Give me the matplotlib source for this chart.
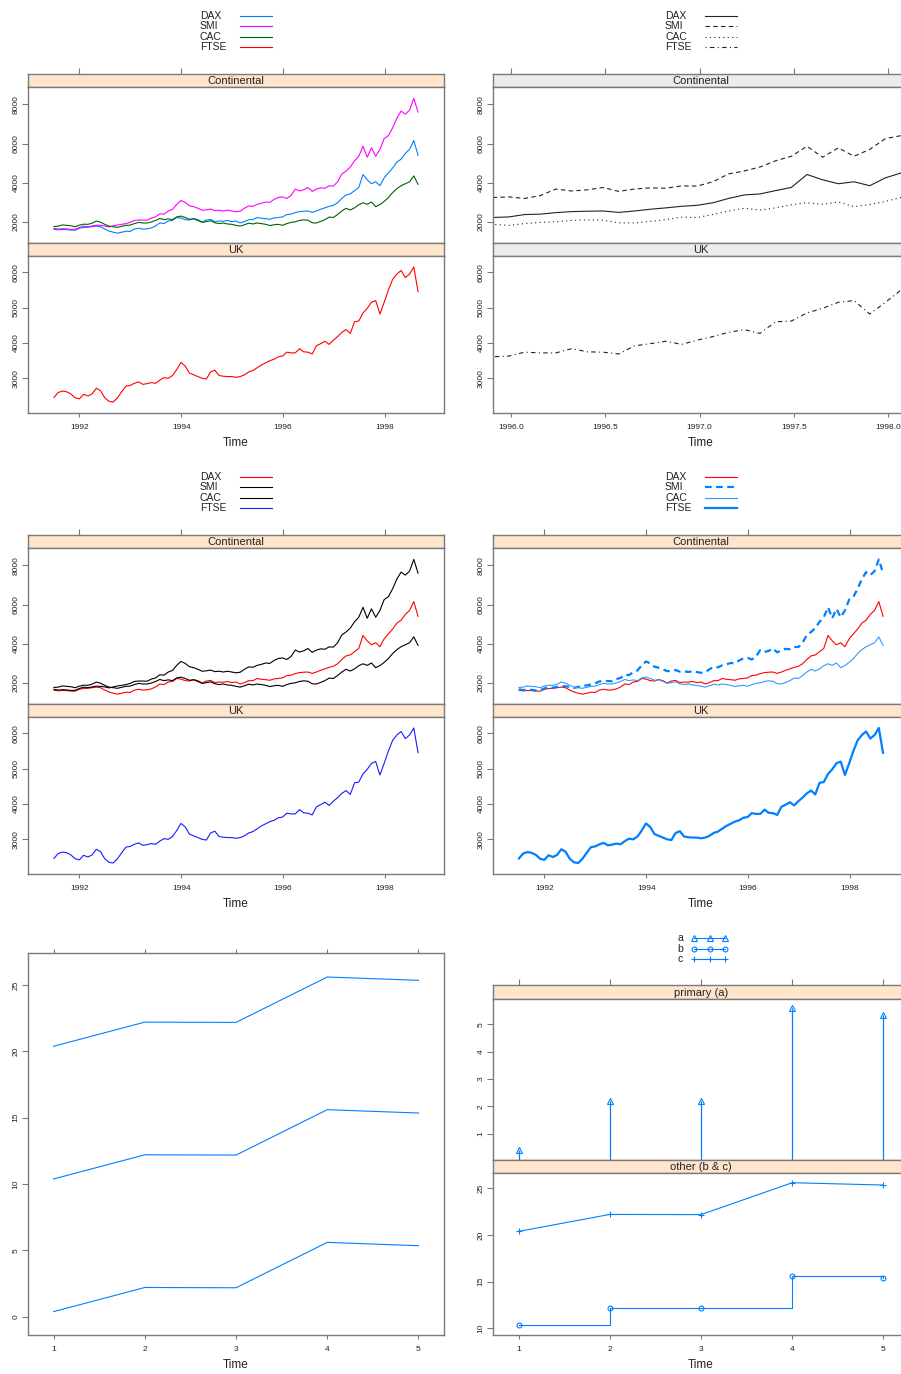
import numpy as np
import matplotlib.pyplot as plt
from matplotlib.lines import Line2D

plt.rcParams['font.family'] = ['Liberation Sans', 'DejaVu Sans']

W, H = 901, 1374
BOX = '#7a7a7a'
TXT = '#222222'
PEACH = '#ffe5cc'
GREY_STRIP = '#ececec'

years = np.linspace(1991.5, 1998.65, 87)
dax = [1630, 1600, 1620, 1610, 1590, 1580, 1680, 1720, 1730, 1760,
       1790, 1760, 1640, 1540, 1480, 1430, 1480, 1530, 1520, 1640,
       1680, 1640, 1650, 1700, 1800, 1950, 1920, 2050, 2080, 2230,
       2200, 2120, 2100, 2180, 2120, 2000, 2100, 2130, 2020, 2050,
       2040, 2080, 2020, 2050, 1950, 2020, 2120, 2120, 2230, 2190,
       2170, 2140, 2210, 2230, 2260, 2380, 2400, 2480, 2530, 2550,
       2560, 2490, 2560, 2650, 2720, 2800, 2850, 2980, 3200, 3380,
       3430, 3600, 3760, 4420, 4150, 3950, 4050, 3850, 4250, 4500,
       4750, 5050, 5200, 5500, 5700, 6150, 5400]
smi = [1680, 1640, 1660, 1650, 1620, 1630, 1720, 1790, 1760, 1800,
       1840, 1830, 1800, 1750, 1800, 1850, 1880, 1920, 1980, 2080,
       2100, 2100, 2090, 2200, 2260, 2420, 2400, 2560, 2640, 2900,
       3100, 3000, 2830, 2780, 2700, 2600, 2620, 2660, 2580, 2600,
       2560, 2600, 2560, 2520, 2550, 2700, 2820, 2800, 2900, 2950,
       3020, 3000, 3150, 3250, 3280, 3200, 3350, 3680, 3580, 3640,
       3760, 3560, 3680, 3740, 3720, 3840, 3830, 4050, 4450, 4600,
       4800, 5120, 5350, 5860, 5300, 5780, 5350, 5700, 6250, 6400,
       6800, 7300, 7650, 7500, 7700, 8300, 7600]
cac = [1772, 1790, 1850, 1830, 1810, 1760, 1840, 1890, 1880, 1940,
       2050, 1990, 1880, 1790, 1760, 1730, 1780, 1830, 1840, 1920,
       1980, 1950, 1950, 2000, 2080, 2180, 2120, 2160, 2120, 2260,
       2300, 2230, 2140, 2160, 2080, 1980, 2020, 2060, 1960, 1920,
       1950, 1900, 1880, 1830, 1790, 1860, 1940, 1900, 1950, 1920,
       1880, 1820, 1860, 1880, 1830, 1920, 1980, 2010, 2080, 2110,
       2090, 1960, 1950, 2030, 2120, 2250, 2230, 2380, 2560, 2700,
       2610, 2720, 2880, 2980, 2900, 3020, 2780, 2890, 3050, 3250,
       3500, 3700, 3850, 3950, 4050, 4350, 3920]
ftse = [2460, 2600, 2640, 2620, 2560, 2450, 2420, 2550, 2500, 2560,
        2720, 2650, 2450, 2350, 2330, 2450, 2620, 2780, 2800, 2860,
        2900, 2830, 2850, 2880, 2860, 2950, 3020, 3000, 3080, 3250,
        3450, 3350, 3150, 3100, 3050, 3000, 2980, 3180, 3230, 3080,
        3060, 3050, 3050, 3030, 3050, 3100, 3180, 3220, 3300, 3380,
        3440, 3500, 3540, 3610, 3630, 3740, 3720, 3720, 3840, 3750,
        3740, 3690, 3920, 3980, 4050, 3960, 4080, 4180, 4300, 4380,
        4270, 4600, 4620, 4850, 4980, 5150, 5200, 4820, 5150, 5500,
        5800, 5950, 6050, 5850, 5950, 6150, 5450]
names = ['DAX', 'SMI', 'CAC', 'FTSE']

# маленький пример a, b, c
idx = [1, 2, 3, 4, 5]
a_vals = [0.38, 2.20, 2.18, 5.60, 5.35]
b_vals = [10.38, 12.20, 12.18, 15.60, 15.35]
c_vals = [20.38, 22.20, 22.18, 25.60, 25.35]

fig = plt.figure(figsize=(W / 100, H / 100), dpi=100)


def rect(x0, y0, x1, y1):
    return [x0 / W, 1 - y1 / H, (x1 - x0) / W, (y1 - y0) / H]


def boxify(ax):
    for sp in ax.spines.values():
        sp.set_color(BOX)
        sp.set_linewidth(1.0)
    ax.tick_params(color=BOX, width=0.8, labelcolor=TXT)


def strip(x0, y0, x1, y1, label, fc, xlim, top_ticks=None):
    s = fig.add_axes(rect(x0, y0, x1, y1))
    s.set_facecolor(fc)
    s.set_xlim(xlim)
    s.set_ylim(0, 1)
    s.set_yticks([])
    boxify(s)
    if top_ticks is None:
        s.set_xticks([])
    else:
        s.set_xticks(top_ticks)
        s.tick_params(axis='x', bottom=False, labelbottom=False, top=True,
                      labeltop=False, length=4)
    s.text(0.5, 0.45, label, transform=s.transAxes, ha='center', va='center',
           fontsize=8, color=TXT)
    return s


def panel(x0, y0, x1, y1, xlim, ylim, yticks):
    ax = fig.add_axes(rect(x0, y0, x1, y1))
    ax.set_xlim(xlim)
    ax.set_ylim(ylim)
    ax.set_yticks(yticks, [str(v) for v in yticks], rotation=90, va='center')
    ax.set_xticks([])
    boxify(ax)
    ax.tick_params(axis='y', labelsize=6, length=4, pad=2)
    return ax


def bottom_axis(ax, ticks, labels):
    ax.set_xticks(ticks, labels)
    ax.tick_params(axis='x', labelsize=6, length=3, pad=5)
    ax.set_xlabel('Time', fontsize=8.5, color=TXT, labelpad=4)


def key_lines(x, y, styles):
    for i, (nm, st) in enumerate(zip(names, styles)):
        yy = 1 - (y + i * 10.3) / H
        fig.text(x / W, yy, nm, ha='left', va='center', fontsize=7.5, color=TXT)
        fig.add_artist(Line2D([(x + 40) / W, (x + 72) / W], [yy, yy], **st))


def stock_block(x0, dy, xlim, xticks, xlabels, strip_fc, styles):
    x1 = x0 + 416
    key_x = x0 + 172
    key_lines(key_x, 16 + dy, styles)
    strip(x0, 74 + dy, x1, 87 + dy, 'Continental', strip_fc, xlim, xticks)
    p1 = panel(x0, 87 + dy, x1, 243 + dy, xlim, (930, 8880), [2000, 4000, 6000, 8000])
    for ser, st in zip([dax, smi, cac], styles[:3]):
        p1.plot(years, ser, **st)
    strip(x0, 243 + dy, x1, 256 + dy, 'UK', strip_fc, xlim)
    p2 = panel(x0, 256 + dy, x1, 413 + dy, xlim, (2020, 6460), [3000, 4000, 5000, 6000])
    p2.plot(years, ftse, **styles[3])
    bottom_axis(p2, xticks, xlabels)


full_lim = (1990.99, 1999.16)
full_ticks = [1992, 1994, 1996, 1998]
full_labels = [str(t) for t in full_ticks]
zoom_lim = (1995.905, 1998.11)
zoom_ticks = [1996.0, 1996.5, 1997.0, 1997.5, 1998.0]
zoom_labels = ['%.1f' % t for t in zoom_ticks]

# верхний ряд
stock_block(28, 0, full_lim, full_ticks, full_labels, PEACH,
            [dict(color='#0080ff', lw=0.8), dict(color='#ff00ff', lw=0.8),
             dict(color='#006400', lw=0.8), dict(color='#ff0000', lw=0.8)])
stock_block(493, 0, zoom_lim, zoom_ticks, zoom_labels, GREY_STRIP,
            [dict(color='#222222', lw=0.8, ls='-'),
             dict(color='#222222', lw=0.8, ls=(0, (4, 3))),
             dict(color='#222222', lw=0.8, ls=(0, (1, 3))),
             dict(color='#222222', lw=0.8, ls=(0, (1, 3, 4, 3)))])

# средний ряд
stock_block(28, 461, full_lim, full_ticks, full_labels, PEACH,
            [dict(color='#ff0000', lw=0.8), dict(color='#000000', lw=0.8),
             dict(color='#000000', lw=0.8), dict(color='#1a1aff', lw=0.8)])
stock_block(493, 461, full_lim, full_ticks, full_labels, PEACH,
            [dict(color='#ff0000', lw=0.8),
             dict(color='#0080ff', lw=1.6, ls=(0, (3, 2))),
             dict(color='#3399ff', lw=0.8),
             dict(color='#0080ff', lw=1.6)])

# нижний левый: три линии
BLUE = '#0080ff'
ab_lim = (0.72, 5.28)
ax = panel(28, 953, 444, 1335, ab_lim, (-1.38, 27.41), [0, 5, 10, 15, 20, 25])
for ser in [a_vals, b_vals, c_vals]:
    ax.plot(idx, ser, color=BLUE, lw=0.8)
bottom_axis(ax, idx, [str(i) for i in idx])
ax.tick_params(axis='x', top=True, labeltop=False)

# нижний правый: primary / other
kx, ky = 677, 938
key_styles = [dict(marker='^', ms=4), dict(marker='o', ms=3.5), dict(marker='+', ms=5)]
for i, (nm, st) in enumerate(zip(['a', 'b', 'c'], key_styles)):
    yy = 1 - (ky + i * 10.5) / H
    fig.text(kx / W, yy, nm, ha='left', va='center', fontsize=7.5, color=TXT)
    fig.add_artist(Line2D([694 / W, 709.5 / W, 725 / W], [yy] * 3, color=BLUE, lw=0.8,
                          mfc='none', mec=BLUE, mew=0.8, **st))

strip(493, 985, 909, 999, 'primary (a)', PEACH, ab_lim, idx)
pa = panel(493, 999, 909, 1160, ab_lim, (0.03, 5.93), [1, 2, 3, 4, 5])
pa.vlines(idx, 0, a_vals, color=BLUE, lw=0.9)
pa.plot(idx, a_vals, ls='none', marker='^', ms=4, mfc='none', mec=BLUE, mew=0.8)
strip(493, 1160, 909, 1173, 'other (b & c)', PEACH, ab_lim)
pb = panel(493, 1173, 909, 1335, ab_lim, (9.28, 26.64), [10, 15, 20, 25])
pb.plot(idx, b_vals, color=BLUE, lw=0.8, drawstyle='steps-post',
        marker='o', ms=3.5, mfc='none', mec=BLUE, mew=0.8)
pb.plot(idx, c_vals, color=BLUE, lw=0.8, marker='+', ms=5, mew=0.8)
bottom_axis(pb, idx, [str(i) for i in idx])

fig.savefig('out.png', dpi=100)
